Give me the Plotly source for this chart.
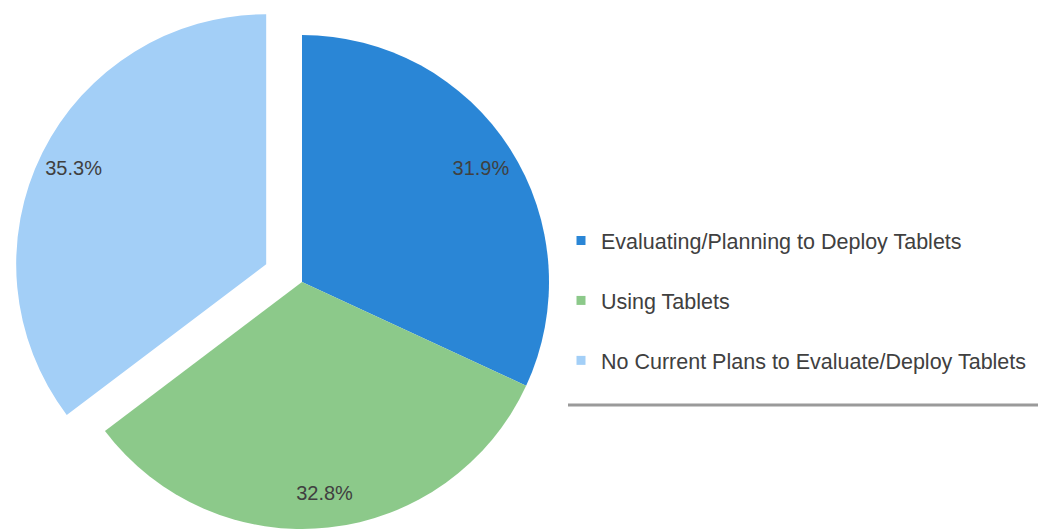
import math
import plotly.graph_objects as go

labels = ["Evaluating/Planning to Deploy Tablets", "Using Tablets",
          "No Current Plans to Evaluate/Deploy Tablets"]
values = [31.9, 32.8, 35.3]
colors = ["#2a86d6", "#8cc98a", "#a3cff7"]
pct_text = [f"{v:.1f}%" for v in values]

W, H = 1038, 529
TRANSPARENT = "rgba(0,0,0,0)"
TEXT_COLOR = "#404040"

# main pie geometry (pixels)
cx, cy, r = 302, 282, 247
pull_px = 40
r_pulled = 250

# direction of pulled slice (light blue) from data
total = sum(values)
start = sum(values[:2]) / total
mid_frac = start + values[2] / total / 2
ang = 2 * math.pi * mid_frac  # clockwise from 12 o'clock
pcx = cx + pull_px * math.sin(ang)
pcy = cy - pull_px * math.cos(ang)


def domain(cxp, cyp, rad):
    return dict(x=[(cxp - rad) / W, (cxp + rad) / W],
                y=[max(0, 1 - (cyp + rad) / H), min(1, 1 - (cyp - rad) / H)])


dom_main = domain(cx, cy, r)
dom_pull = domain(pcx, pcy, r_pulled)

fig = go.Figure()

common = dict(labels=labels, values=values, sort=False, direction="clockwise",
              rotation=0, showlegend=False, hoverinfo="skip")

# blue + green body
fig.add_trace(go.Pie(**common, domain=dom_main, textinfo="none",
                     marker=dict(colors=[colors[0], colors[1], TRANSPARENT],
                                 line=dict(width=0))))
# pulled light-blue body
fig.add_trace(go.Pie(**common, domain=dom_pull, textinfo="none",
                     marker=dict(colors=[TRANSPARENT, TRANSPARENT, colors[2]],
                                 line=dict(width=0))))
# labels (transparent ring overlays)
label_font = dict(size=20, color=TEXT_COLOR, family="Liberation Sans, Arial")
fig.add_trace(go.Pie(**common, domain=dom_main, hole=0.72,
                     text=[pct_text[0], pct_text[1], ""], textinfo="text",
                     textposition="inside", insidetextorientation="horizontal",
                     textfont=label_font,
                     marker=dict(colors=[TRANSPARENT] * 3, line=dict(width=0))))
fig.add_trace(go.Pie(**common, domain=dom_pull, hole=0.72,
                     text=["", "", pct_text[2]], textinfo="text",
                     textposition="inside", insidetextorientation="horizontal",
                     textfont=label_font,
                     marker=dict(colors=[TRANSPARENT] * 3, line=dict(width=0))))

# legend entries
for i, (lab, col) in enumerate(zip(labels, colors)):
    fig.add_trace(go.Scatter(x=[None], y=[None], mode="markers", name=lab,
                             legendgroup=f"g{i}",
                             marker=dict(symbol="square", size=9, color=col),
                             hoverinfo="skip"))

fig.add_shape(type="line", xref="paper", yref="paper",
              x0=568 / W, x1=1.0, y0=1 - 405 / H, y1=1 - 405 / H,
              line=dict(color="#9a9a9a", width=3))

fig.update_layout(
    width=W, height=H,
    margin=dict(l=0, r=0, t=0, b=0),
    paper_bgcolor="white", plot_bgcolor="white",
    font=dict(family="Liberation Sans, Arial", color=TEXT_COLOR),
    xaxis=dict(visible=False), yaxis=dict(visible=False),
    legend=dict(x=561 / W, xanchor="left", y=1 - 220 / H, yanchor="top",
                font=dict(size=21.5, color=TEXT_COLOR), tracegroupgap=29,
                bgcolor="rgba(0,0,0,0)", borderwidth=0),
)

fig.write_html("out.html")
